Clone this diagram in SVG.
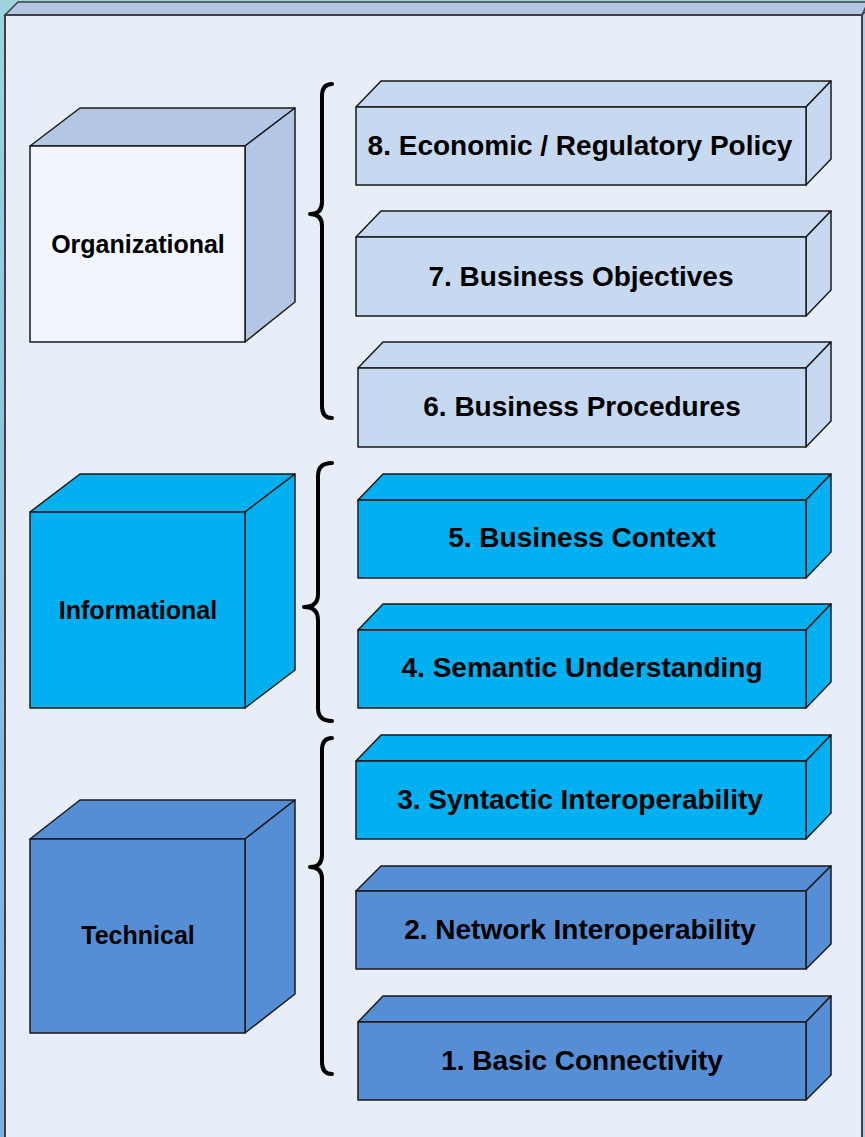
<svg xmlns="http://www.w3.org/2000/svg" width="865" height="1137" viewBox="0 0 865 1137">
<defs>
<linearGradient id="bg" x1="0" y1="0" x2="0" y2="1">
<stop offset="0" stop-color="#9fd3e0"/>
<stop offset="0.5" stop-color="#8cbfe0"/>
<stop offset="1" stop-color="#7fb0d8"/>
</linearGradient>
<style>
.edge{stroke:#1a1a1a;stroke-width:1.5;stroke-linejoin:round}
.org{fill:#c6d9f1}
.orgd{fill:#b3c7e5}
.inf{fill:#00b0f0}
.tec{fill:#558ed5}
.lbl{font-family:"Liberation Sans",Arial,sans-serif;font-weight:bold;font-size:28px;fill:#000;text-anchor:middle}
.clbl{font-family:"Liberation Sans",Arial,sans-serif;font-weight:bold;font-size:25px;fill:#000;text-anchor:middle}
.brace{fill:none;stroke:#000;stroke-width:4;stroke-linecap:round;stroke-linejoin:round}
</style>
</defs>
<rect x="0" y="0" width="865" height="1137" fill="url(#bg)"/>
<g id="frame">
<polygon points="5,15 18,2 868,2 862,15" fill="#b3c7e5" stroke="#404040" stroke-width="1.5"/>
<polygon points="862,15 868,9 868,1140 862,1140" fill="#b3c7e5" stroke="#404040" stroke-width="1.5"/>
<rect x="5" y="15" width="857" height="1130" fill="#e8eef8" stroke="#404040" stroke-width="2"/>
</g>

<g id="cube-organizational">
<polygon class="edge orgd" points="30,146 80,108 295,108 245,146"/>
<polygon class="edge orgd" points="245,146 295,108 295,302 245,342"/>
<rect class="edge" x="30" y="146" width="215" height="196" fill="#f2f5fb"/>
<text class="clbl" x="138" y="253">Organizational</text>
</g>
<g id="cube-informational">
<polygon class="edge inf" points="30,512 80,474 295,474 245,512"/>
<polygon class="edge inf" points="245,512 295,474 295,670 245,708"/>
<rect class="edge inf" x="30" y="512" width="215" height="196"/>
<text class="clbl" x="138" y="619">Informational</text>
</g>
<g id="cube-technical">
<polygon class="edge tec" points="30,839 80,800 295,800 245,839"/>
<polygon class="edge tec" points="245,839 295,800 295,994 245,1033"/>
<rect class="edge tec" x="30" y="839" width="215" height="194"/>
<text class="clbl" x="138" y="944">Technical</text>
</g>

<g id="bar-8">
<polygon class="edge org" points="356,107 381,81 831,81 806,107"/>
<polygon class="edge org" points="806,107 831,81 831,159 806,185"/>
<rect class="edge org" x="356" y="107" width="450" height="78"/>
<text class="lbl" x="580" y="155">8. Economic / Regulatory Policy</text>
</g>
<g id="bar-7">
<polygon class="edge org" points="356,237 381,211 831,211 806,237"/>
<polygon class="edge org" points="806,237 831,211 831,290 806,316"/>
<rect class="edge org" x="356" y="237" width="450" height="79"/>
<text class="lbl" x="581" y="286">7. Business Objectives</text>
</g>
<g id="bar-6">
<polygon class="edge org" points="358,368 383,342 831,342 806,368"/>
<polygon class="edge org" points="806,368 831,342 831,421 806,447"/>
<rect class="edge org" x="358" y="368" width="448" height="79"/>
<text class="lbl" x="582" y="416">6. Business Procedures</text>
</g>
<g id="bar-5">
<polygon class="edge inf" points="358,500 383,474 831,474 806,500"/>
<polygon class="edge inf" points="806,500 831,474 831,552 806,578"/>
<rect class="edge inf" x="358" y="500" width="448" height="78"/>
<text class="lbl" x="582" y="547">5. Business Context</text>
</g>
<g id="bar-4">
<polygon class="edge inf" points="358,630 383,604 831,604 806,630"/>
<polygon class="edge inf" points="806,630 831,604 831,682 806,708"/>
<rect class="edge inf" x="358" y="630" width="448" height="78"/>
<text class="lbl" x="582" y="677">4. Semantic Understanding</text>
</g>
<g id="bar-3">
<polygon class="edge inf" points="356,761 381,735 831,735 806,761"/>
<polygon class="edge inf" points="806,761 831,735 831,813 806,839"/>
<rect class="edge inf" x="356" y="761" width="450" height="78"/>
<text class="lbl" x="580" y="809">3. Syntactic Interoperability</text>
</g>
<g id="bar-2">
<polygon class="edge tec" points="356,891 381,866 831,866 806,891"/>
<polygon class="edge tec" points="806,891 831,866 831,944 806,969"/>
<rect class="edge tec" x="356" y="891" width="450" height="78"/>
<text class="lbl" x="580" y="939">2. Network Interoperability</text>
</g>
<g id="bar-1">
<polygon class="edge tec" points="358,1022 383,996 831,996 806,1022"/>
<polygon class="edge tec" points="806,1022 831,996 831,1075 806,1100"/>
<rect class="edge tec" x="358" y="1022" width="448" height="78"/>
<text class="lbl" x="582" y="1070">1. Basic Connectivity</text>
</g>

<g id="connectors">
<path class="brace" d="M332,84 Q322,84 322,96 L322,202 Q322,214 310,214 Q322,214 322,226 L322,406 Q322,418 332,418"/>
<path class="brace" d="M332,463 Q318,463 318,476 L318,594 Q318,607 304,607 Q318,607 318,620 L318,708 Q318,721 332,721"/>
<path class="brace" d="M332,738 Q322,738 322,750 L322,855 Q322,867 310,867 Q322,867 322,879 L322,1062 Q322,1074 332,1074"/>
</g>
</svg>
